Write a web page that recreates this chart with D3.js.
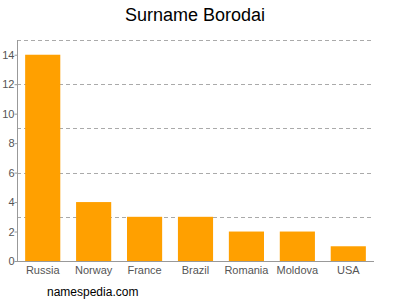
<!DOCTYPE html>
<html><head><meta charset="utf-8">
<script src="https://cdn.jsdelivr.net/npm/d3@7"></script>
<style>body{margin:0;background:#fff}svg{display:block}</style>
</head><body>
<script>
const categories = ["Russia","Norway","France","Brazil","Romania","Moldova","USA"];
const values = [14,4,3,3,2,2,1];
const yTicks = [0,2,4,6,8,10,12,14];
const gridValues = [3,6,9,12,15];
const title = "Surname Borodai";
const credit = "namespedia.com";

const W=400,H=300;
const m={left:17,right:26,top:40,bottom:39};
const svg=d3.select("body").append("svg").attr("width",W).attr("height",H);
const x=d3.scaleBand().domain(categories).range([m.left,W-m.right]).paddingInner(0.31).paddingOuter(0.16);
const y=d3.scaleLinear().domain([0,15]).range([H-m.bottom,m.top]);

svg.append("g").selectAll("line").data(gridValues).join("line")
  .attr("x1",m.left).attr("x2",W-m.right)
  .attr("y1",d=>Math.round(y(d))+0.5).attr("y2",d=>Math.round(y(d))+0.5)
  .attr("stroke","#aaa").attr("stroke-dasharray","4,3").attr("stroke-width",1);

svg.append("g").selectAll("rect").data(values).join("rect")
  .attr("x",(d,i)=>x(categories[i])).attr("width",x.bandwidth())
  .attr("y",d=>y(d)).attr("height",d=>y(0)-y(d)).attr("fill","#ffa000");

const yAxis=svg.append("g").attr("transform",`translate(${m.left+0.5},0)`)
  .call(d3.axisLeft(y).tickValues(yTicks).tickSize(3).tickFormat(d3.format("d")));
yAxis.select(".domain").attr("stroke","#999").attr("d",`M0,${m.top}V${y(0)}`);
yAxis.selectAll(".tick line").attr("stroke","#999");
yAxis.selectAll("text").attr("fill","#555").style("font","11px Arial, 'Liberation Sans', sans-serif").attr("x",-3);

const xAxis=svg.append("g").attr("transform",`translate(0,${y(0)+0.5})`)
  .call(d3.axisBottom(x).tickSize(0).tickPadding(5));
xAxis.select(".domain").attr("stroke","#999").attr("d",`M${m.left},0H${W-m.right}`);
xAxis.selectAll("text").attr("fill","#555").style("font","11px Arial, 'Liberation Sans', sans-serif");

svg.append("text").attr("x",195).attr("y",21).attr("text-anchor","middle")
  .style("font","18px Arial, 'Liberation Sans', sans-serif").attr("fill","#000").text(title);
svg.append("text").attr("x",47).attr("y",296)
  .style("font","12px Arial, 'Liberation Sans', sans-serif").attr("fill","#000").text(credit);
</script>
</body></html>
